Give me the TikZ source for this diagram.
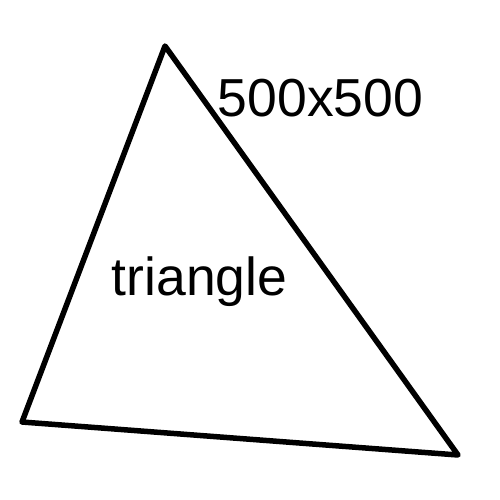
\documentclass[tikz,border=0pt]{standalone}
\usepackage{fontspec}
\setmainfont{Liberation Sans}
\begin{document}
\begin{tikzpicture}[x=1pt,y=-1pt,
  edge/.style={line width=5.5pt,line join=round,line cap=round},
  lbl/.style={inner sep=0pt,anchor=base,font=\fontsize{53.5}{60}\selectfont}]
\useasboundingbox (0,0) rectangle (500,500);
\fill[white] (0,0) rectangle (500,500);
\coordinate (A) at (165,46);
\coordinate (B) at (22,422);
\coordinate (C) at (458,455);
\draw[edge] (A) -- (B) -- (C) -- cycle;
\node[lbl] (dim) at (320.5,117) {500x500};
\node[lbl] (name) at (199.5,295) {triangle};
\end{tikzpicture}
\end{document}
